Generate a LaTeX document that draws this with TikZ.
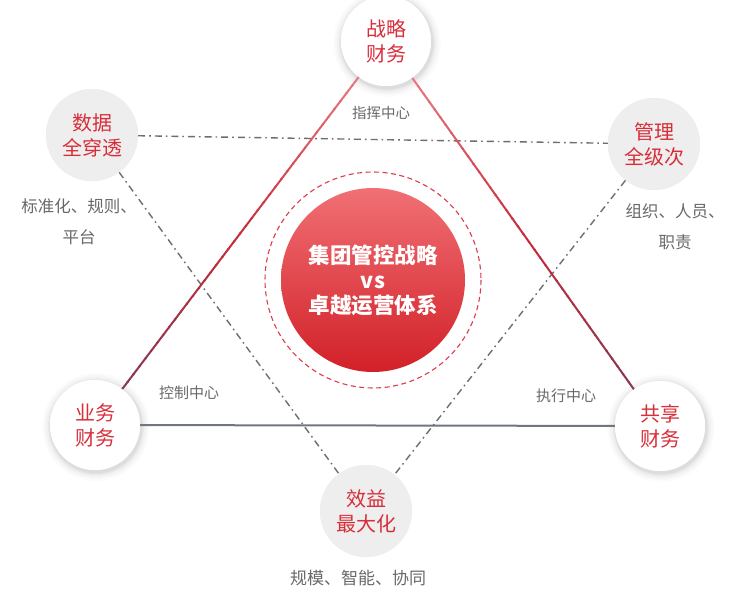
\documentclass[tikz,border=0pt]{standalone}
\usepackage{fontspec}
\setmainfont{Noto Sans CJK SC}
\usetikzlibrary{calc}
\definecolor{nodered}{RGB}{216,46,58}
\definecolor{labelgray}{RGB}{105,105,105}
\definecolor{circlegray}{RGB}{238,238,238}
\definecolor{dashgray}{RGB}{110,110,110}
\definecolor{baseline}{RGB}{112,118,128}
\definecolor{lnpink}{RGB}{234,120,130}
\definecolor{lnred}{RGB}{200,44,58}
\definecolor{lnmaroon}{RGB}{134,56,80}
\definecolor{ctop}{RGB}{240,112,116}
\definecolor{cbot}{RGB}{210,32,40}
\definecolor{ringred}{RGB}{220,60,76}
\begin{document}
\begin{tikzpicture}[x=1pt,y=-1pt,
  whitenode/.style={circle, fill=white, minimum size=90pt, inner sep=0pt, align=center,
    font=\fontsize{20}{25}\selectfont, text=nodered},
  graynode/.style={circle, fill=circlegray, minimum size=92pt, inner sep=0pt, align=center,
    font=\fontsize{20}{25}\selectfont, text=nodered},
  lbl/.style={text=labelgray, font=\fontsize{14.5}{31}\selectfont, align=center, inner sep=0pt},
  sidelbl/.style={lbl, font=\fontsize{16.5}{31}\selectfont},
  dashline/.style={draw=dashgray, line width=1.4pt, dash pattern=on 7pt off 4pt on 1.6pt off 4pt},
  solidline/.style={line width=2pt},
]
\useasboundingbox[fill=white] (0,0) rectangle (754,593);

% soft shadows for white circles
\foreach \p in {(386,41),(95,425),(660,426)}{
  \foreach \r/\o in {54/0.012,52/0.018,50/0.025,48/0.035,46.5/0.045}{
    \fill[black, opacity=\o] \p ++(1,2) circle (\r);
  }
}

% nodes (positions), drawn on top later
\node[whitenode] (top) at (386,41) {战略\\财务};
\node[graynode] (dl) at (92,135) {数据\\全穿透};
\node[graynode] (dr) at (654,144) {管理\\全级次};
\node[whitenode] (bl) at (95,425) {业务\\财务};
\node[whitenode] (br) at (660,426) {共享\\财务};
\node[graynode] (bot) at (366,511) {效益\\最大化};

% dash-dot triangle
\draw[dashline] (dl) -- (dr);
\draw[dashline] (dl) -- (bot);
\draw[dashline] (dr) -- (bot);

% solid triangle
\path (top) -- (bl) coordinate[pos=0] (s1) coordinate[pos=1] (e1);
\path (top) -- (br) coordinate[pos=0] (s2) coordinate[pos=1] (e2);
\foreach \i in {0,...,39}{
  \pgfmathsetmacro{\a}{\i/40}
  \pgfmathsetmacro{\b}{(\i+1)/40+0.004}
  \pgfmathsetmacro{\t}{(\i+0.5)/40}
  \pgfmathtruncatemacro{\ma}{\t<0.5 ? 100-200*\t : 0}
  \pgfmathtruncatemacro{\mb}{\t<0.5 ? 0 : 200*\t-100}
  \ifnum\ma>0
    \colorlet{segc}{lnpink!\ma!lnred}
  \else
    \colorlet{segc}{lnmaroon!\mb!lnred}
  \fi
  \draw[solidline, draw=segc] ($(s1)!\a!(e1)$) -- ($(s1)!\b!(e1)$);
  \draw[solidline, draw=segc] ($(s2)!\a!(e2)$) -- ($(s2)!\b!(e2)$);
}
\draw[solidline, draw=baseline] (bl) -- (br);

% redraw nodes on top
\node[whitenode] at (top) {战略\\财务};
\node[graynode] at (dl) {数据\\全穿透};
\node[graynode] at (dr) {管理\\全级次};
\node[whitenode] at (bl) {业务\\财务};
\node[whitenode] at (br) {共享\\财务};
\node[graynode] at (bot) {效益\\最大化};

% center
\coordinate (c) at (373,280);
\draw[ringred, line width=1.1pt, dash pattern=on 5pt off 3.5pt] (c) circle (108);
\shade[top color=ctop, bottom color=cbot] (c) circle (92);
\node[text=white, align=center, font=\fontsize{21.5}{25}\selectfont\bfseries] (ctext) at (c) {集团管控战略\\vs\\卓越运营体系};

% labels
\node[lbl] (l1) at (381,113) {指挥中心};
\node[sidelbl] (l2) at (79,222) {标准化、规则、\\平台};
\node[sidelbl] (l3) at (675,227) {组织、人员、\\职责};
\node[lbl, font=\fontsize{15}{20}\selectfont] (l4) at (189,393) {控制中心};
\node[lbl, font=\fontsize{15}{20}\selectfont] (l5) at (566,396) {执行中心};
\node[lbl, font=\fontsize{17}{20}\selectfont] (l6) at (358,578) {规模、智能、协同};
\end{tikzpicture}
\end{document}
